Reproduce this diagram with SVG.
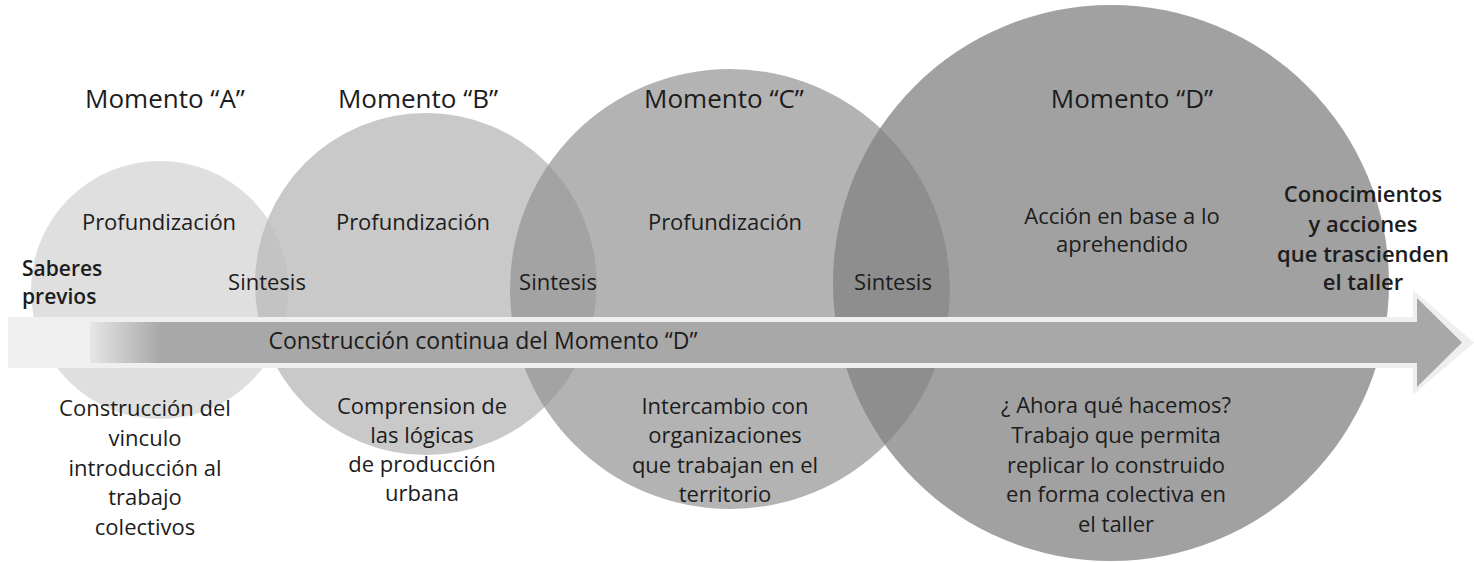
<svg xmlns="http://www.w3.org/2000/svg" width="1474" height="563" viewBox="0 0 1474 563">
<defs>
<style>
text { font-family: "Open Sans", "Noto Sans", "DejaVu Sans", sans-serif; font-size: 22px; fill: #1c1c1c; text-anchor: middle; }
.head { font-size: 26px; }
.band { font-size: 23px; }
.bold { font-weight: 600; font-size: 22px; }
.sb { font-weight: 600; font-size: 21px; text-anchor: start; }
</style>
<clipPath id="clipA"><circle cx="160" cy="290" r="129"/></clipPath>
<clipPath id="clipC"><circle cx="730" cy="289" r="220"/></clipPath>
<linearGradient id="shaft" x1="90" y1="0" x2="160" y2="0" gradientUnits="userSpaceOnUse">
<stop offset="0" stop-color="#e6e6e6"/>
<stop offset="1" stop-color="#a8a8a8"/>
</linearGradient>
</defs>
<rect width="1474" height="563" fill="#ffffff"/>

<g id="circles">
<circle id="circle-d" cx="1111" cy="283" r="278" fill="#a1a1a1"/>
<circle id="circle-c" cx="730" cy="289" r="220" fill="#b3b3b3"/>
<circle id="circle-b" cx="426" cy="284" r="171" fill="#c9c9c9"/>
<circle id="circle-a" cx="160" cy="290" r="129" fill="#dfdfdf"/>
<circle cx="426" cy="284" r="171" fill="#c3c3c3" clip-path="url(#clipA)"/>
<circle cx="426" cy="284" r="171" fill="#a3a3a3" clip-path="url(#clipC)"/>
<circle cx="1111" cy="283" r="278" fill="#8e8e8e" clip-path="url(#clipC)"/>
</g>

<g id="connectors">
<path id="arrow-outer" d="M8,317 H1413 V290 L1474,342.5 L1413,395 V368 H8 Z" fill="#efefef"/>
<path id="arrow-inner" d="M90,322 H1417 V298 L1462,342.5 L1417,387 V363 H90 Z" fill="url(#shaft)"/>
<text class="band" x="483" y="349">Construcción continua del Momento “D”</text>
</g>

<g id="saberes-previos">
<text class="sb" x="22" y="276">Saberes</text>
<text class="sb" x="22" y="304">previos</text>
</g>

<g id="momento-a">
<text class="head" x="165" y="108">Momento “A”</text>
<text x="159" y="230">Profundización</text>
<text x="145" y="416">Construcción del</text>
<text x="145" y="446">vinculo</text>
<text x="145" y="476">introducción al</text>
<text x="145" y="505">trabajo</text>
<text x="145" y="535">colectivos</text>
</g>

<g id="sintesis-ab"><text x="267" y="290">Sintesis</text></g>

<g id="momento-b">
<text class="head" x="418" y="108">Momento “B”</text>
<text x="413" y="230">Profundización</text>
<text x="422" y="414">Comprension de</text>
<text x="422" y="443">las lógicas</text>
<text x="422" y="472">de producción</text>
<text x="422" y="501">urbana</text>
</g>

<g id="sintesis-bc"><text x="558" y="290">Sintesis</text></g>

<g id="momento-c">
<text class="head" x="724" y="108">Momento “C”</text>
<text x="725" y="230">Profundización</text>
<text x="725" y="414">Intercambio con</text>
<text x="725" y="443">organizaciones</text>
<text x="725" y="473">que trabajan en el</text>
<text x="725" y="502">territorio</text>
</g>

<g id="sintesis-cd"><text x="893" y="290">Sintesis</text></g>

<g id="momento-d">
<text class="head" x="1132" y="108">Momento “D”</text>
<text x="1122" y="224">Acción en base a lo</text>
<text x="1122" y="252">aprehendido</text>
<text x="1116" y="413">¿ Ahora qué hacemos?</text>
<text x="1116" y="443">Trabajo que permita</text>
<text x="1116" y="473">replicar lo construido</text>
<text x="1116" y="502">en forma colectiva en</text>
<text x="1116" y="532">el taller</text>
</g>

<g id="conocimientos">
<text class="bold" x="1363" y="202">Conocimientos</text>
<text class="bold" x="1363" y="232">y acciones</text>
<text class="bold" x="1363" y="262">que trascienden</text>
<text class="bold" x="1363" y="290">el taller</text>
</g>
</svg>
